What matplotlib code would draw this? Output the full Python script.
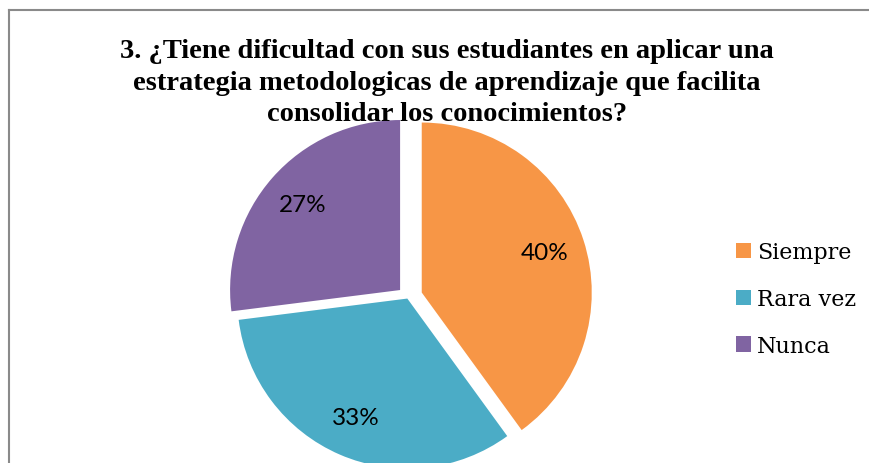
import matplotlib.pyplot as plt
from matplotlib.lines import Line2D

# datos de la pregunta 3
categorias = ["Siempre", "Rara vez", "Nunca"]
valores = [40, 33, 27]
colores = ["#F79646", "#4BACC6", "#8064A2"]
titulo = ("3. ¿Tiene dificultad con sus estudiantes en aplicar una\n"
          "estrategia metodologicas de aprendizaje que facilita\n"
          "consolidar los conocimientos?")

W, H = 869, 464
fig = plt.figure(figsize=(W / 100, H / 100), dpi=100)

# centro del pastel y radio en pixeles
cx, cy, r = 408, 298, 170
lim = 1.2
ancho = 2 * lim * r
ax = fig.add_axes([(cx - ancho / 2) / W, (H - cy - ancho / 2) / H, ancho / W, ancho / H])

wedges, textos, autotextos = ax.pie(
    valores, colors=colores, startangle=90, counterclock=False,
    explode=[0.085, 0.01, 0.062], autopct="%1.0f%%", pctdistance=0.76,
    wedgeprops=dict(linewidth=0), textprops=dict(fontsize=17.5, family="Lato"))
ax.set_xlim(-lim, lim)
ax.set_ylim(-lim, lim)
ax.set_aspect("equal")
ax.axis("off")

fig.text(447 / W, 1 - 83 / H, titulo, ha="center", va="center",
         fontsize=20.5, fontweight="bold", family="Liberation Serif",
         linespacing=1.32)

fig.legend(wedges, categorias, loc="center left",
           bbox_to_anchor=(736 / W, 1 - 300 / H), frameon=False,
           prop=dict(family="DejaVu Serif", size=16),
           handlelength=0.68, handleheight=0.68, handletextpad=0.25,
           labelspacing=1.12, borderpad=0, borderaxespad=0)

# marco del grafico
gris = "#8a8a8a"
fig.add_artist(Line2D([8.5 / W, 8.5 / W], [0, 1 - 11 / H], color=gris, lw=1.5))
fig.add_artist(Line2D([8.5 / W, 1], [1 - 11 / H, 1 - 11 / H], color=gris, lw=1.5))

fig.savefig("out.png", dpi=100)
